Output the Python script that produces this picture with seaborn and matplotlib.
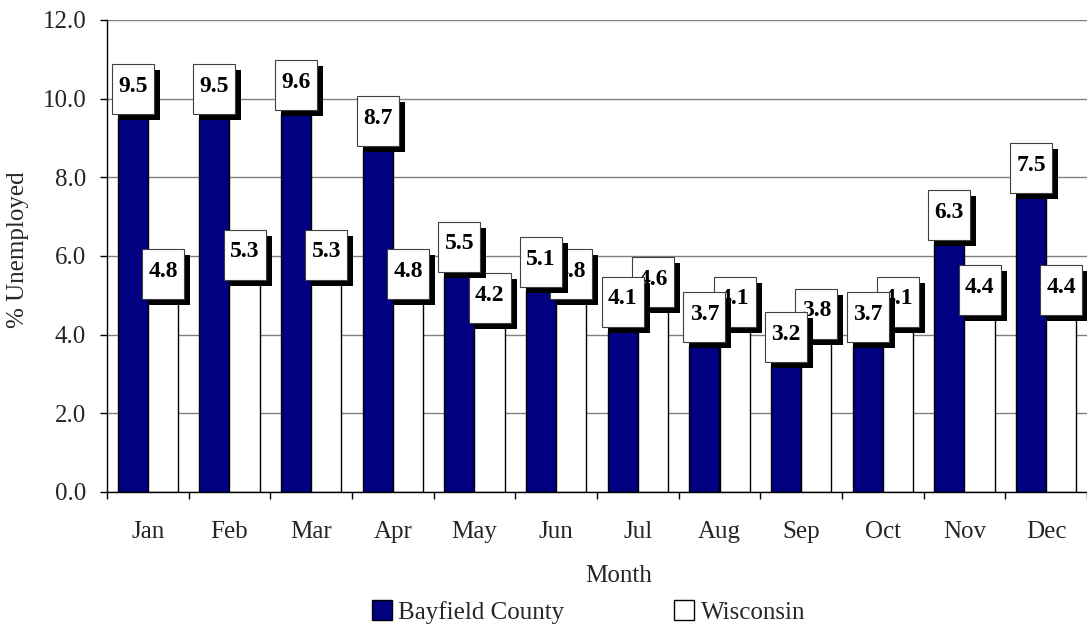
import numpy as np
import pandas as pd
import seaborn as sns
from matplotlib import pyplot as plt
from matplotlib.patches import Rectangle
from matplotlib.transforms import ScaledTranslation
from matplotlib.ticker import FormatStrFormatter

months = ["Jan", "Feb", "Mar", "Apr", "May", "Jun", "Jul", "Aug", "Sep", "Oct", "Nov", "Dec"]
bayfield = [9.5, 9.5, 9.6, 8.7, 5.5, 5.1, 4.1, 3.7, 3.2, 3.7, 6.3, 7.5]
wisconsin = [4.8, 5.3, 5.3, 4.8, 4.2, 4.8, 4.6, 4.1, 3.8, 4.1, 4.4, 4.4]
series = ["Bayfield County", "Wisconsin"]
colors = ["#000080", "#FFFFFF"]

df = pd.DataFrame({
    "Month": months * 2,
    "series": [series[0]] * 12 + [series[1]] * 12,
    "value": bayfield + wisconsin,
})

sns.set_theme(style="white")
plt.rcParams['font.family'] = ['Liberation Serif', 'DejaVu Serif']

W, H = 1087, 624
fs = 18
fig = plt.figure(figsize=(W / 100, H / 100), dpi=100)
ax = fig.add_axes([107 / W, (H - 492) / H, 980 / W, 472 / H])

sns.barplot(data=df, x="Month", y="value", hue="series", order=months, hue_order=series,
            palette=colors, width=0.74, gap=0, edgecolor="black", linewidth=1,
            saturation=1, ax=ax)
ax.legend_.remove()

ax.set_ylim(0, 12)
ax.set_xlim(-0.5, 11.5)
ax.set_yticks(np.arange(0, 13, 2))
ax.yaxis.set_major_formatter(FormatStrFormatter("%.1f"))
ax.yaxis.grid(True, color="#808080", linewidth=1)
ax.set_axisbelow(True)
for s in ["top", "right"]:
    ax.spines[s].set_visible(False)
for s in ["left", "bottom"]:
    ax.spines[s].set_color("black")
    ax.spines[s].set_linewidth(1)

ax.tick_params(axis="y", which="major", left=True, length=5, width=1, color="black",
               direction="out", pad=10, labelsize=fs)
ax.tick_params(axis="x", which="major", bottom=True, length=0, pad=21, labelsize=fs)
ax.set_xticks(np.arange(-0.5, 12, 1), minor=True)
ax.tick_params(axis="x", which="minor", bottom=True, length=5, width=1, color="black",
               direction="out")

ax.set_xlabel("Month", fontsize=fs)
ax.xaxis.set_label_coords((619 - 107) / 980, (492 - 576) / 472)
ax.xaxis.label.set_va("center")
ax.set_ylabel("% Unemployed", fontsize=fs)
ax.yaxis.set_label_coords((18 - 107) / 980, (492 - 250) / 472)
ax.yaxis.label.set_va("center")

# data labels: white boxes with black drop shadow, sitting on top of each bar
bw, bh, gap = 0.42, 0.50, 0.04   # inches
sx, sy = 0.06, 0.06
for k, cont in enumerate(ax.containers):
    z = 6 if k == 0 else 4
    for bar, val in zip(cont, cont.datavalues):
        x = bar.get_x() + bar.get_width() / 2
        y = bar.get_height()
        tr = fig.dpi_scale_trans + ScaledTranslation(x, y, ax.transData)
        ax.add_patch(Rectangle((-bw / 2 + sx, gap - sy), bw, bh, transform=tr,
                               facecolor="black", edgecolor="none", zorder=z, clip_on=False))
        ax.add_patch(Rectangle((-bw / 2, gap), bw, bh, transform=tr,
                               facecolor="white", edgecolor="#404040", linewidth=0.8,
                               zorder=z + 0.5, clip_on=False))
        ax.annotate(f"{val:.1f}", (x, y), xytext=(0, (gap + bh / 2) * 72 + 2),
                    textcoords="offset points", ha="center", va="center",
                    fontsize=17, fontweight="bold", color="black", zorder=z + 1)

ax.set_ylim(0, 12)
ax.set_xlim(-0.5, 11.5)

handles = [Rectangle((0, 0), 1, 1, facecolor=c, edgecolor="black", linewidth=1) for c in colors]
fig.legend(handles, series, loc="center left", bbox_to_anchor=(372 / W, 12 / H),
           ncol=2, frameon=False, fontsize=fs, handlelength=0.8, handleheight=0.8,
           handletextpad=0.25, columnspacing=4.4, borderpad=0, borderaxespad=0)

fig.savefig("out.png", dpi=100)
